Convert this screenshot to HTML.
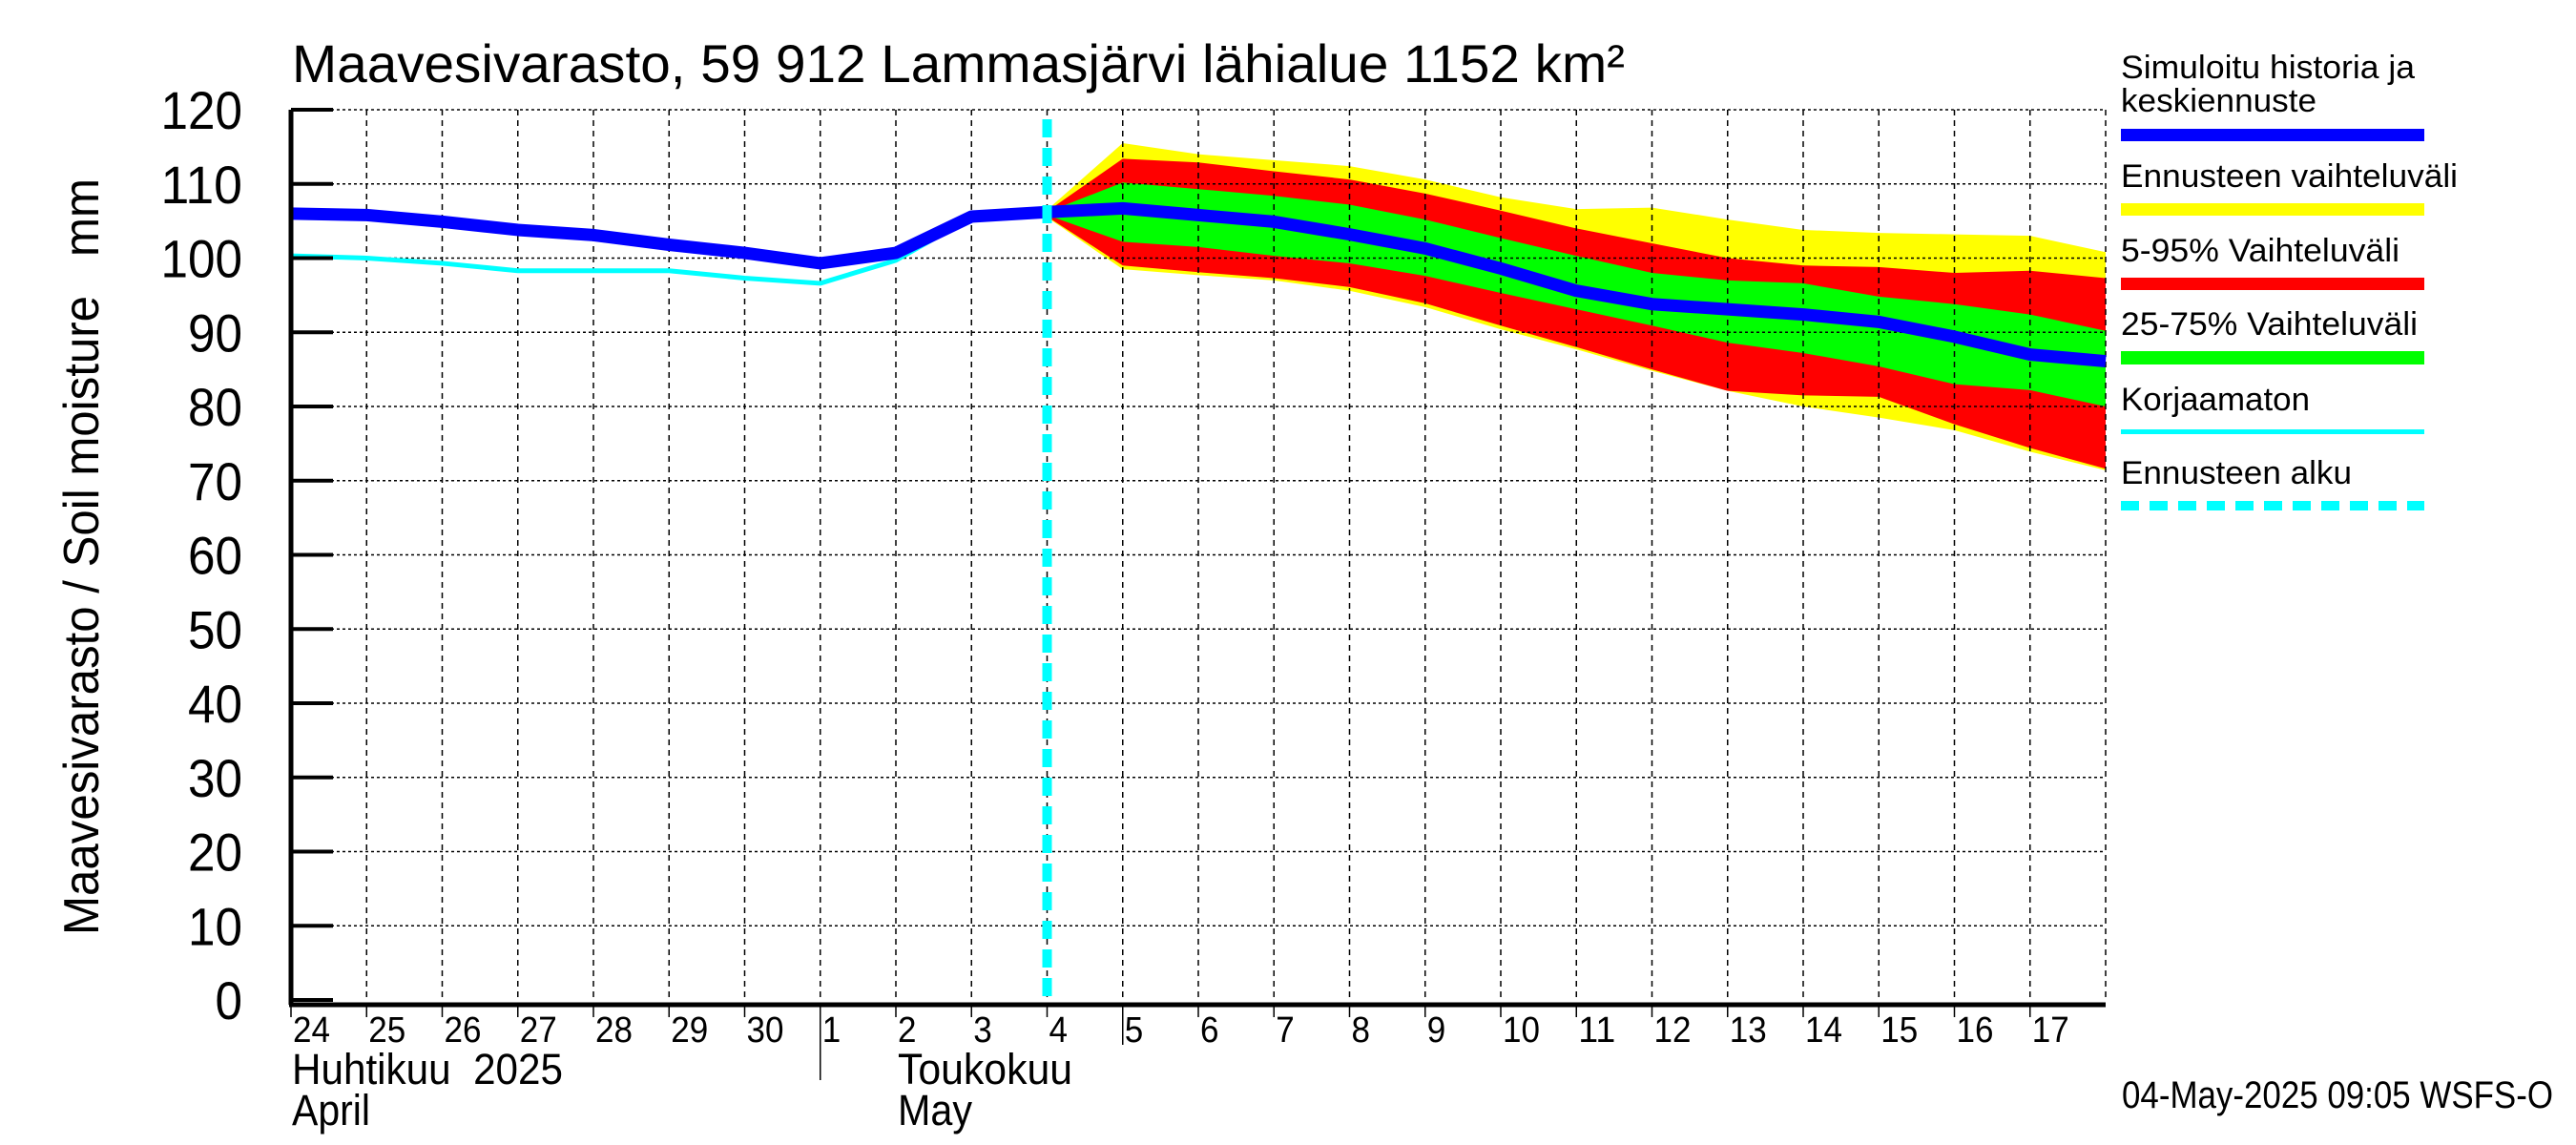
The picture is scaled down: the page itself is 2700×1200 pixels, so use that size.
<!DOCTYPE html>
<html><head><meta charset="utf-8"><style>
html,body{margin:0;padding:0;background:#fff}
svg{display:block}
text{font-family:"Liberation Sans",sans-serif;fill:#000}
</style></head><body>
<svg id="chart" width="2700" height="1200" viewBox="0 0 2700 1200" xmlns="http://www.w3.org/2000/svg">
<rect width="2700" height="1200" fill="#fff"/>
<g id="bands"></g>
<g id="grid"></g>
<g id="lines"></g>
<g id="axes"></g>
<text x="306" y="86" font-size="56" textLength="1397" lengthAdjust="spacingAndGlyphs">Maavesivarasto, 59 912 Lammasjärvi lähialue 1152 km²</text>
<text transform="translate(103,980) rotate(-90)" font-size="52" textLength="793" lengthAdjust="spacingAndGlyphs" style="white-space:pre" xml:space="preserve">Maavesivarasto / Soil moisture   mm</text>
<text x="306" y="1136" font-size="45" textLength="284" lengthAdjust="spacingAndGlyphs" style="white-space:pre" xml:space="preserve">Huhtikuu  2025</text>
<text x="306" y="1179" font-size="45" textLength="82" lengthAdjust="spacingAndGlyphs">April</text>
<text x="941" y="1136" font-size="45" textLength="183" lengthAdjust="spacingAndGlyphs">Toukokuu</text>
<text x="941" y="1179" font-size="45" textLength="78" lengthAdjust="spacingAndGlyphs">May</text>
<text x="2224" y="1161" font-size="40" textLength="452" lengthAdjust="spacingAndGlyphs">04-May-2025 09:05 WSFS-O</text>
<g id="legend">
<text x="2223" y="82" font-size="34" textLength="308" lengthAdjust="spacingAndGlyphs">Simuloitu historia ja</text>
<text x="2223" y="117" font-size="34" textLength="205" lengthAdjust="spacingAndGlyphs">keskiennuste</text>
<rect x="2223" y="135" width="318" height="13" fill="#0000ff"/>
<text x="2223" y="196" font-size="34" textLength="353" lengthAdjust="spacingAndGlyphs">Ennusteen vaihteluväli</text>
<rect x="2223" y="213" width="318" height="13" fill="#ffff00"/>
<text x="2223" y="274" font-size="34" textLength="292" lengthAdjust="spacingAndGlyphs">5-95% Vaihteluväli</text>
<rect x="2223" y="291" width="318" height="13" fill="#ff0000"/>
<text x="2223" y="351" font-size="34" textLength="311" lengthAdjust="spacingAndGlyphs">25-75% Vaihteluväli</text>
<rect x="2223" y="368" width="318" height="14" fill="#00ff00"/>
<text x="2223" y="430" font-size="34" textLength="198" lengthAdjust="spacingAndGlyphs">Korjaamaton</text>
<rect x="2223" y="450" width="318" height="5" fill="#00ffff"/>
<text x="2223" y="507" font-size="34" textLength="242" lengthAdjust="spacingAndGlyphs">Ennusteen alku</text>
<line x1="2223" y1="530" x2="2541" y2="530" stroke="#00ffff" stroke-width="10" stroke-dasharray="19 11"/>
</g>
</svg>
<script>
// Days from Apr 24 (index 0) to May 18 (index 24)
const dayLabels = ["24","25","26","27","28","29","30","1","2","3","4","5","6","7","8","9","10","11","12","13","14","15","16","17"];
const yTicks = [0,10,20,30,40,50,60,70,80,90,100,110,120];
const simulated = [106,105.8,104.9,103.8,103.1,101.8,100.7,99.3,100.7,105.6,106.2,106.7,105.8,104.9,103.2,101.3,98.6,95.6,93.8,93.1,92.4,91.4,89.4,87,86.1];
const uncorrected = [100.3,100,99.3,98.3,98.3,98.3,97.3,96.6,99.7,105.5,106];
const forecastStartDay = 10;
const bandStart = 10;
const yellowHi = [106.5,115.5,114,113.2,112.4,110.6,108.2,106.6,106.8,105.2,103.8,103.4,103.2,103,100.8];
const redHi = [106.3,113.4,112.9,111.7,110.6,108.7,106.4,104,102,100,99,98.8,98,98.3,97.3];
const greenHi = [106.2,110.2,109.3,108.4,107.2,105.2,102.7,100.3,98,97,96.6,94.8,93.8,92.4,90.2];
const greenLo = [105.8,102.2,101.5,100.3,99.3,97.6,95.3,93.1,90.9,88.6,87.2,85.4,83.0,82.2,80.0];
const redLo = [105.6,99.0,98.1,97.3,96.1,93.9,90.9,88.0,85.0,82.1,81.5,81.3,77.6,74.4,71.6];
const yellowLo = [105.5,98.5,97.7,97.0,95.6,93.4,90.4,87.7,84.8,82.1,80,78.5,76.8,73.9,71.4];

const NS = "http://www.w3.org/2000/svg";
const X0 = 305, DAYW = 79.25, Y0 = 1048, UNIT = 7.775;
const xs = d => X0 + d * DAYW;
const ys = v => Y0 - v * UNIT;
function mk(tag, attrs, parent) {
  const e = document.createElementNS(NS, tag);
  for (const k in attrs) e.setAttribute(k, attrs[k]);
  parent.appendChild(e);
  return e;
}
const gB = document.getElementById('bands');
const gG = document.getElementById('grid');
const gL = document.getElementById('lines');
const gA = document.getElementById('axes');

function band(hi, lo, color, name) {
  const pts = [];
  hi.forEach((v, i) => pts.push(xs(bandStart + i) + ',' + ys(v)));
  for (let i = lo.length - 1; i >= 0; i--) pts.push(xs(bandStart + i) + ',' + ys(lo[i]));
  const p = mk('polygon', {points: pts.join(' '), fill: color}, gB);
  
  
}
band(yellowHi, yellowLo, '#ffff00', 'band-range');
band(redHi, redLo, '#ff0000', 'band-5-95');
band(greenHi, greenLo, '#00ff00', 'band-25-75');

yTicks.forEach(v => {
  if (v === 0) return;
  const l = mk('line', {x1: X0, x2: xs(24), y1: ys(v), y2: ys(v), stroke: '#000', 'stroke-width': 1.5, 'stroke-dasharray': '3 3'}, gG);
  
  
});
for (let d = 1; d <= 24; d++) {
  const l = mk('line', {x1: xs(d), x2: xs(d), y1: ys(120), y2: Y0, stroke: '#000', 'stroke-width': 1.5, 'stroke-dasharray': '6 5'}, gG);
  
  
}

function poly(vals, start, color, w, name) {
  const pts = vals.map((v, i) => xs(start + i) + ',' + ys(v)).join(' ');
  const p = mk('polyline', {points: pts, fill: 'none', stroke: color, 'stroke-width': w, 'stroke-linejoin': 'round'}, gL);
  
  
}
poly(uncorrected, 0, '#00ffff', 5, 'uncorrected-line');
poly(simulated, 0, '#0000ff', 13, 'simulated-line');
const fl = mk('line', {x1: xs(forecastStartDay), x2: xs(forecastStartDay), y1: 125, y2: Y0, stroke: '#00ffff', 'stroke-width': 10, 'stroke-dasharray': '19 11'}, gL);



const ax = mk('line', {x1: X0, x2: X0, y1: ys(120), y2: 1053, stroke: '#000', 'stroke-width': 5}, gA);


const bx = mk('line', {x1: X0 - 2, x2: xs(24), y1: 1053, y2: 1053, stroke: '#000', 'stroke-width': 5}, gA);


yTicks.forEach(v => {
  const t = mk('line', {x1: X0, x2: X0 + 44, y1: ys(v), y2: ys(v), stroke: '#000', 'stroke-width': 4}, gA);
  
  
  const s = String(v);
  const tx = mk('text', {x: 254, y: ys(v) + 20, 'font-size': 56, 'text-anchor': 'end', textLength: s.length * 28.5, lengthAdjust: 'spacingAndGlyphs'}, gA);
  tx.textContent = s;
  
  
});
dayLabels.forEach((lab, i) => {
  const t = mk('line', {x1: xs(i), x2: xs(i), y1: 1053, y2: (i === 11 ? 1095 : 1066), stroke: '#000', 'stroke-width': 1.5}, gA);
  
  
  const tx = mk('text', {x: xs(i) + 2, y: 1092, 'font-size': 38, textLength: lab.length * 19.5, lengthAdjust: 'spacingAndGlyphs'}, gA);
  tx.textContent = lab;
  
  
});
const sep = mk('line', {x1: xs(7), x2: xs(7), y1: 1053, y2: 1132, stroke: '#000', 'stroke-width': 1.5}, gA);


</script>
</body></html>
